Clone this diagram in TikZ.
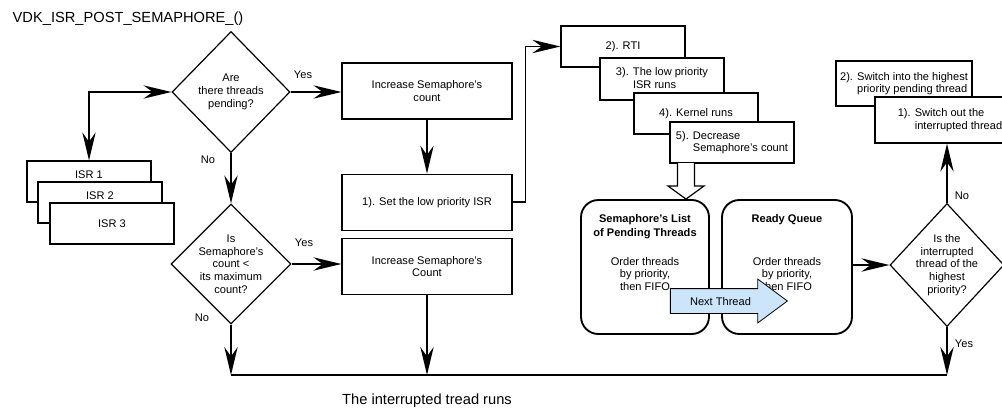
\documentclass[tikz,border=0pt]{standalone}
\usepackage{fontspec}
\setmainfont{Liberation Sans}
\usepackage{tikz}
\usetikzlibrary{arrows.meta,positioning,calc,shapes.geometric,shapes.arrows}
\definecolor{nextfill}{HTML}{CCE5FB}
\newcommand{\figfont}{\fontsize{8.3pt}{9.5pt}\selectfont}
\newcommand{\bigfont}{\fontsize{11pt}{13pt}\selectfont}
\tikzset{
  >={Stealth[length=21pt,width=10pt,inset=7pt]},
  flow/.style={->,draw=black,line width=1.2pt},
  bus/.style={draw=black,line width=1.2pt},
  task/.style={draw=black,fill=white,line width=.9pt,minimum width=127.5pt,minimum height=42pt,
               align=center,font=\figfont,inner sep=2pt},
  stack/.style={draw=black,fill=white,line width=.9pt,minimum width=93pt,minimum height=30.75pt,
                align=left,font=\figfont,inner sep=2pt},
  isrtop/.style={text depth=9.8pt},
  decision/.style={diamond,draw=black,fill=white,line width=.9pt,inner sep=-5pt,
                   align=center,font=\figfont},
  queue/.style={draw=black,line width=1.4pt,rounded corners=13pt,minimum height=100.5pt,
                align=center,font=\figfont,inner sep=0pt,text height=67.75pt,text depth=32.75pt},
  hollow/.style={draw=black,fill=white,line width=.9pt},
  yesno/.style={font=\figfont},
  heading/.style={font=\bigfont},
}
\begin{document}
\begin{tikzpicture}[x=0.75pt,y=-0.75pt]
  \useasboundingbox (0,0) rectangle (1002,407);

  \node[heading,anchor=base west] (title) at (8,22) {VDK\_ISR\_POST\_SEMAPHORE\_()};

  % interrupt sources
  \node[stack,isrtop] (isr1) at (89,181.5) {ISR 1};
  \node[stack,isrtop] (isr2) at (100,202.5) {ISR 2};
  \node[stack] (isr3) at (112,223.5) {ISR 3};

  % decisions
  \node[decision,minimum width=88.5pt,minimum height=90.75pt] (d1) at (231,92) {Are\\there threads\\pending?};
  \node[decision,minimum width=90pt,minimum height=90pt] (d2) at (231,264) {Is\\Semaphore's\\count <\\its maximum\\count?};
  \node[decision,minimum width=85.5pt,minimum height=92.25pt] (d3) at (947,265) {Is the\\interrupted\\thread of the\\highest\\priority?};

  % semaphore path
  \node[task] (inc1) at (427,91) {Increase Semaphore's\\count};
  \node[task,below=40.5pt of inc1] (setisr) {1). Set the low priority ISR};
  \node[task,below=5.25pt of setisr] (inc2) {Increase Semaphore's\\Count};

  \node[stack] (rti) at (623,46.5) {2). RTI};
  \node[stack,minimum height=31.5pt] (low) at (662,79) {3). The low priority\\\phantom{3). }ISR runs};
  \node[stack] (kern) at (696,113.5) {4). Kernel runs};
  \node[stack] (decr) at (732,142.5) {5). Decrease\\\phantom{5). }Semaphore's count};

  % queues
  \node[queue,minimum width=96pt] (semlist) at (645,267)
    {\textbf{Semaphore's List}\\[1pt]\textbf{of Pending Threads}\\[12.25pt]Order threads\\by priority,\\then FIFO};
  \node[queue,minimum width=97.5pt] (ready) at (787,267)
    {\textbf{Ready Queue}\\[22.75pt]Order threads\\by priority,\\then FIFO};
  \node[single arrow,draw=black,fill=nextfill,line width=.6pt,minimum height=87.75pt,
        single arrow head extend=7.1pt,single arrow tip angle=73,inner ysep=6pt,
        text height=6pt,text depth=0pt,font=\figfont] (next) at (720.5,301) {Next Thread};

  % context switch
  \node[stack,minimum width=102pt,minimum height=33.75pt] (sw2) at (904,83.5)
    {2). Switch into the highest\\\phantom{2). }priority pending thread};
  \node[stack,minimum width=112.5pt,minimum height=34.5pt] (sw1) at (950,120)
    {1). Switch out the\\\phantom{1). }interrupted thread};

  \node[heading,anchor=base] (runs) at (427,404) {The interrupted tread runs};

  % labels
  \node[yesno] (yes1) at (303,75) {Yes};
  \node[yesno] (no1) at (208,160) {No};
  \node[yesno] (yes2) at (304,243) {Yes};
  \node[yesno] (no2) at (202,318) {No};
  \node[yesno] (no3) at (962,196) {No};
  \node[yesno] (yes3) at (964,344) {Yes};

  % connectors
  \draw[flow,<->] (isr1.north) |- (d1.west);
  \draw[flow] (d1.east) -- (d1.east -| inc1.west);
  \draw[flow] (d1.south) -- (d2.north);
  \draw[flow] (d2.east) -- (d2.east -| inc2.west);
  \draw[flow] (inc1.south) -- (setisr.north);
  \draw[flow] (setisr.east) -- ++(13,0) |- (rti.west);

  \coordinate (drop) at (686,163);
  \draw[hollow] ($(drop)+(-8.5,0)$) -- ($(drop)+(-8.5,23)$) -- ($(drop)+(-18,23)$)
    -- (drop |- semlist.north) -- ($(drop)+(18,23)$) -- ($(drop)+(8.5,23)$) -- ($(drop)+(8.5,0)$);

  \draw[flow] (ready.east |- d3.west) -- (d3.west);
  \draw[flow] (d3.north) -- (d3.north |- sw1.south);

  \coordinate (busl) at (231,375);
  \coordinate (busr) at (947,375);
  \draw[bus] (busl) -- (busr);
  \draw[flow] (d2.south) -- (busl);
  \draw[flow] (inc2.south) -- (inc2.south |- busl);
  \draw[flow] (d3.south) -- (busr);
\end{tikzpicture}
\end{document}
